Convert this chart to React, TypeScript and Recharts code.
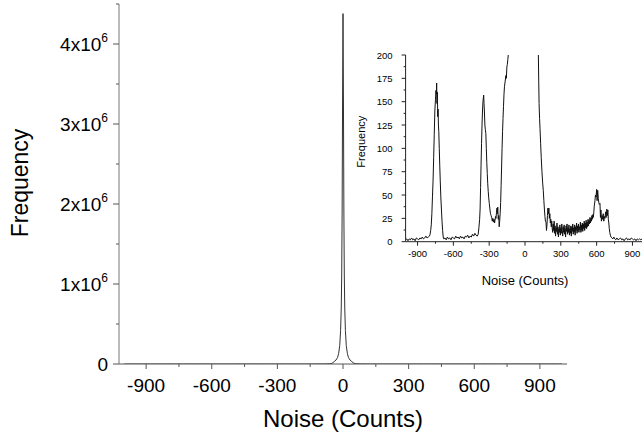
import React from 'react';
import { LineChart, Line, XAxis, YAxis } from 'recharts';

const FONT = '"Liberation Sans", Arial, Helvetica, sans-serif';

// histogram wings (counts per bin)
const wingNoise = [
  -1000, -990, -980, -970, -960, -950, -940, -930, -920, -910, -900, -890, -880, -870, -860, -850, -840, -830, -820, -810, -800,
  -795, -790, -785, -780, -775, -770, -765, -760, -755, -750, -746, -742, -740, -737, -734, -731, -728, -725, -722, -718, -714,
  -710, -705, -700, -695, -690, -685, -680, -670, -660, -650, -640, -630, -620, -610, -600, -590, -580, -570, -560, -550, -540,
  -530, -520, -510, -500, -490, -480, -470, -460, -450, -440, -430, -420, -410, -400, -392, -386, -380, -376, -372, -368, -364,
  -360, -356, -352, -349, -346, -343, -340, -336, -332, -328, -324, -320, -316, -312, -308, -304, -299, -294, -289, -284, -279,
  -274, -269, -264, -259, -255, -251, -247, -243, -239, -235, -232, -228, -224, -220, -216, -212, -208, -204, -200, -196, -192,
  -188, -184, -180, -176, -172, -166, -160, -156, -152, -148, -144, -140,
  112, 115, 118, 122, 126, 131, 136, 142, 148, 153, 158, 163, 167, 171, 176, 180, 184, 188, 192, 196, 200, 204, 208, 212, 216,
  220, 224,
  228, 232, 236, 240, 244, 248, 252, 256, 260, 264, 268, 272, 276, 280, 284, 288, 292, 296, 300, 304,
  308, 312, 316, 320, 324, 328, 332, 336, 340, 344, 348, 352, 356, 360, 364, 368, 372, 376, 380, 384,
  388, 392, 396, 400, 404, 408, 412, 416, 420, 424, 428, 432, 436, 440, 444, 448, 452, 456, 460, 464,
  468, 472, 476, 480, 484, 488, 492, 496, 500, 504, 508, 512, 516, 520, 524, 528, 532, 536, 540, 544,
  548, 552, 556, 560, 564, 568, 572, 576,
  580, 586, 590, 595, 600, 604, 609, 614, 618, 622, 628, 632, 636, 640, 645, 650, 655, 660, 665, 670,
  675, 680, 685, 690, 694, 698, 702, 706, 710, 715, 720, 728, 736, 744, 752, 760, 770, 780, 790,
  800, 810, 820, 830, 840, 850, 860, 870, 880, 890, 900, 910, 920, 930, 940, 950, 960, 970, 980, 990, 1000,
];
const wingFreq = [
  2, 3, 1, 3, 2, 4, 2, 3, 1, 4, 3, 2, 4, 3, 5, 3, 4, 6, 4, 5, 6,
  8, 12, 18, 30, 48, 65, 90, 115, 140, 152, 162, 158, 170, 148, 160, 134, 142, 125, 118, 100, 82,
  66, 48, 35, 22, 12, 5, 3, 4, 2, 5, 3, 4, 2, 5, 4, 3, 6, 4, 5, 3, 6,
  4, 5, 3, 6, 5, 7, 4, 6, 5, 8, 6, 9, 7, 6, 8, 15, 24, 35, 58, 82, 105,
  125, 140, 150, 154, 157, 148, 140, 125, 120, 116, 100, 85, 73, 62, 54, 47, 41, 35, 30, 28, 26,
  22, 25, 21, 24, 20, 23, 27, 25, 31, 36, 30, 37, 24, 28, 16, 22, 30, 42, 60, 80, 100,
  118, 132, 145, 158, 166, 172, 178, 175, 187, 190, 195, 200,
  200, 172, 148, 132, 121, 105, 90, 75, 63, 55, 44, 34, 27, 22, 21, 12, 18, 28, 36, 30, 36, 25, 30, 20, 24,
  16, 22,
  14, 10, 19, 12, 22, 9, 17, 6, 15, 11, 20, 8, 16, 5, 14, 10, 18, 7, 15, 9,
  19, 12, 6, 16, 10, 18, 8, 14, 5, 17, 11, 19, 8, 15, 10, 18, 7, 14, 9, 17,
  6, 16, 11, 19, 8, 15, 10, 18, 7, 16, 12, 20, 9, 17, 11, 19, 10, 16, 13, 21,
  10, 18, 12, 20, 11, 19, 14, 22, 12, 20, 15, 23, 14, 21, 16, 24, 17, 23, 19, 26,
  20, 25, 22, 28, 24, 29, 26, 31,
  38, 44, 50, 48, 56, 44, 55, 46, 42, 40, 41, 26, 34, 22, 28, 24, 30, 22, 27, 25,
  32, 26, 35, 28, 34, 24, 20, 14, 10, 7, 5, 4, 3, 5, 3, 2, 4, 2, 3,
  4, 2, 3, 1, 3, 4, 2, 3, 2, 4, 3, 2, 3, 1, 3, 2, 3, 2, 3, 2, 3,
];

// central spike around zero noise
const coreNoise = [
  -130, -115, -100, -80, -60, -50, -40, -32, -25, -20, -15, -11, -8, -6, -4, -2, 0,
  2, 4, 6, 8, 11, 15, 20, 25, 32, 40, 50, 60, 80, 95, 105,
];
const coreFreq = [
  240, 300, 420, 900, 3000, 9000, 30000, 50000, 80000, 130000, 230000, 420000, 700000, 1100000, 1900000, 3300000, 4380000,
  3300000, 1900000, 1100000, 700000, 420000, 230000, 130000, 80000, 50000, 30000, 9000, 3000, 900, 400, 260,
];

const noiseTicks = [-900, -750, -600, -450, -300, -150, 0, 150, 300, 450, 600, 750, 900];
const mainFreqTicks = [0, 500000, 1000000, 1500000, 2000000, 2500000, 3000000, 3500000, 4000000, 4500000];
const insetFreqTicks = [0, 12.5, 25, 37.5, 50, 62.5, 75, 87.5, 100, 112.5, 125, 137.5, 150, 162.5, 175, 187.5, 200];

const data = [
  ...wingNoise.map((n, i) => ({ noise: n, freq: wingFreq[i] })),
  ...coreNoise.map((n, i) => ({ noise: n, freq: coreFreq[i] })),
].sort((a, b) => a.noise - b.noise);

const MainXTick = (props: any) => {
  const { x, y, payload } = props;
  const major = payload.value % 300 === 0;
  return (
    <g>
      <line x1={x} x2={x} y1={y} y2={y + (major ? 5 : 3)} stroke="#555" />
      {major && (
        <text x={x} y={y + 28} textAnchor="middle" fontSize={19} fontFamily={FONT} fill="#000">
          {payload.value}
        </text>
      )}
    </g>
  );
};

const MainYTick = (props: any) => {
  const { x, y, payload } = props;
  const v = payload.value;
  const major = v % 1000000 === 0;
  const m = v / 1000000;
  return (
    <g>
      <line x1={x - (major ? 6 : 3)} x2={x} y1={y} y2={y} stroke="#555" />
      {major && (
        <text x={x - 11} y={y + 7} textAnchor="end" fontSize={19} fontFamily={FONT} fill="#000">
          {m === 0 ? '0' : (
            <>
              <tspan>{m}x10</tspan>
              <tspan dy={-9} fontSize={12}>6</tspan>
            </>
          )}
        </text>
      )}
    </g>
  );
};

const InsetXTick = (props: any) => {
  const { x, y, payload } = props;
  const major = payload.value % 300 === 0;
  return (
    <g>
      <line x1={x} x2={x} y1={y} y2={y + (major ? 4 : 2)} stroke="#222" />
      {major && (
        <text x={x} y={y + 15} textAnchor="middle" fontSize={9.5} fontFamily={FONT} fill="#000">
          {payload.value}
        </text>
      )}
    </g>
  );
};

const InsetYTick = (props: any) => {
  const { x, y, payload } = props;
  const major = payload.value % 25 === 0;
  return (
    <g>
      <line x1={x - (major ? 4 : 2)} x2={x} y1={y} y2={y} stroke="#222" />
      {major && (
        <text x={x - 13} y={y + 3.5} textAnchor="end" fontSize={9.5} fontFamily={FONT} fill="#000">
          {payload.value}
        </text>
      )}
    </g>
  );
};

const App = () => {
  return (
    <div style={{ position: 'absolute', left: 0, top: 0, width: 642, height: 436, overflow: 'hidden', background: '#fff' }}>
      <LineChart width={642} height={436} data={data} margin={{ top: 4, right: 75, bottom: 0, left: 0 }}>
        <XAxis
          dataKey="noise"
          type="number"
          domain={[-1024, 1024]}
          allowDataOverflow
          ticks={noiseTicks}
          interval={0}
          tickSize={0}
          tickMargin={0}
          tickLine={false}
          tick={MainXTick}
          height={72}
          axisLine={{ stroke: '#555' }}
          label={(p: any) => (
            <text
              x={p.viewBox.x + p.viewBox.width / 2}
              y={p.viewBox.y + 63}
              textAnchor="middle"
              fontSize={24}
              fontFamily={FONT}
              fill="#000"
            >
              Noise (Counts)
            </text>
          )}
        />
        <YAxis
          type="number"
          domain={[0, 4500000]}
          allowDataOverflow
          ticks={mainFreqTicks}
          interval={0}
          tickSize={0}
          tickMargin={0}
          tickLine={false}
          tick={MainYTick}
          width={119}
          axisLine={{ stroke: '#777' }}
          label={(p: any) => {
            const cx = p.viewBox.x + 28;
            const cy = p.viewBox.y + p.viewBox.height / 2 - 1;
            return (
              <text x={cx} y={cy} transform={`rotate(-90 ${cx} ${cy})`} textAnchor="middle" fontSize={23} fontFamily={FONT} fill="#000">
                Frequency
              </text>
            );
          }}
        />
        <Line type="linear" dataKey="freq" stroke="#333" strokeWidth={1} dot={false} isAnimationActive={false} />
      </LineChart>

      <div style={{ position: 'absolute', left: 340, top: 40 }}>
        <LineChart width={310} height={260} data={data} margin={{ top: 15, right: 5.6, bottom: 0, left: 0 }}>
          <XAxis
            dataKey="noise"
            type="number"
            domain={[-1000, 1000]}
            allowDataOverflow
            ticks={noiseTicks}
            interval={0}
            tickSize={0}
            tickMargin={0}
            tickLine={false}
            tick={InsetXTick}
            height={58.3}
            axisLine={{ stroke: '#222' }}
            label={(p: any) => (
              <text
                x={p.viewBox.x + p.viewBox.width / 2}
                y={p.viewBox.y + 43.3}
                textAnchor="middle"
                fontSize={13}
                fontFamily={FONT}
                fill="#000"
              >
                Noise (Counts)
              </text>
            )}
          />
          <YAxis
            type="number"
            domain={[0, 200]}
            allowDataOverflow
            ticks={insetFreqTicks}
            interval={0}
            tickSize={0}
            tickMargin={0}
            tickLine={false}
            tick={InsetYTick}
            width={65.6}
            axisLine={{ stroke: '#222' }}
            label={(p: any) => {
              const cx = p.viewBox.x + 25;
              const cy = 101.7;
              return (
                <text x={cx} y={cy} transform={`rotate(-90 ${cx} ${cy})`} textAnchor="middle" fontSize={11} fontFamily={FONT} fill="#000">
                  Frequency
                </text>
              );
            }}
          />
          <Line type="linear" dataKey="freq" stroke="#111" strokeWidth={1} dot={false} isAnimationActive={false} />
        </LineChart>
      </div>
    </div>
  );
};

export default App;
